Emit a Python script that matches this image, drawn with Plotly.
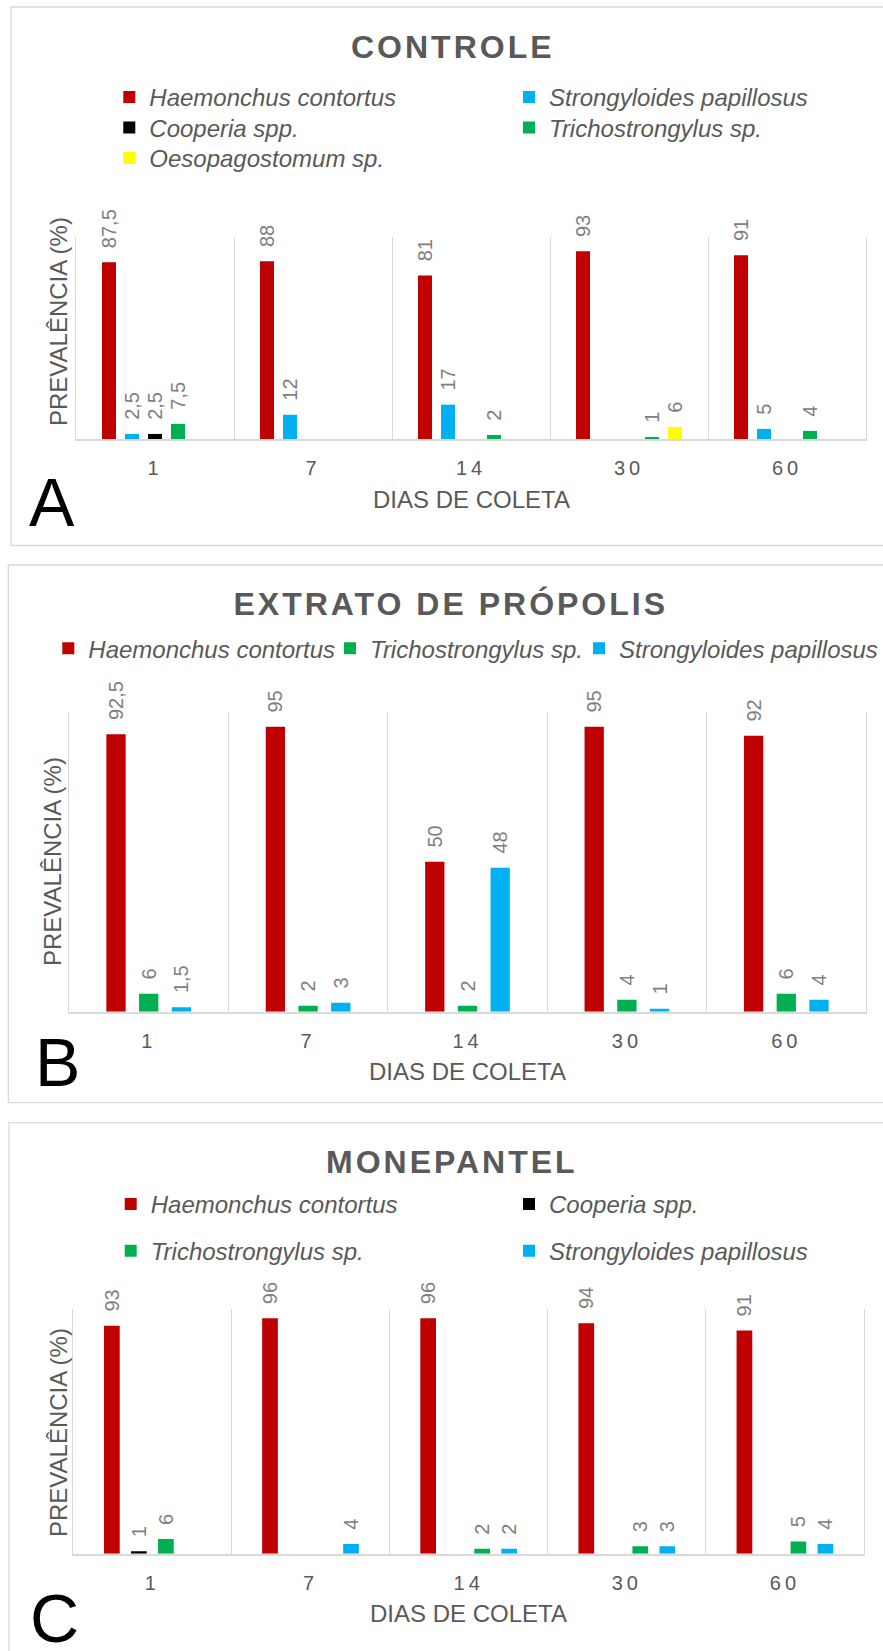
import plotly.graph_objects as go

# ---------------------------------------------------------------------------
# Data: prevalence (%) of each parasite per collection day, per treatment
# ---------------------------------------------------------------------------
DAYS = ["1", "7", "14", "30", "60"]

# A - CONTROLE
CTRL_HAEMONCHUS = [87.5, 88, 81, 93, 91]
CTRL_STRONGYLOIDES = [2.5, 12, 17, 0, 5]
CTRL_COOPERIA = [2.5, 0, 0, 0, 0]
CTRL_TRICHO = [7.5, 0, 2, 1, 4]
CTRL_OESO = [0, 0, 0, 6, 0]

# B - EXTRATO DE PRÓPOLIS
PROP_HAEMONCHUS = [92.5, 95, 50, 95, 92]
PROP_TRICHO = [6, 2, 2, 4, 6]
PROP_STRONGYLOIDES = [1.5, 3, 48, 1, 4]

# C - MONEPANTEL
MONE_HAEMONCHUS = [93, 96, 96, 94, 91]
MONE_COOPERIA = [1, 0, 0, 0, 0]
MONE_TRICHO = [6, 0, 2, 3, 5]
MONE_STRONGYLOIDES = [0, 4, 2, 3, 4]

PANEL_TITLES = ["CONTROLE", "EXTRATO DE PRÓPOLIS", "MONEPANTEL"]
PANEL_LETTERS = ["A", "B", "C"]
X_TITLE = "DIAS DE COLETA"
Y_TITLE = "PREVALÊNCIA (%)"

SPECIES = {
    "H": ("Haemonchus contortus", "#C00000"),
    "S": ("Strongyloides papillosus", "#00B0F0"),
    "C": ("Cooperia spp.", "#000000"),
    "T": ("Trichostrongylus sp.", "#00B050"),
    "O": ("Oesopagostomum sp.", "#FFFF00"),
}

# ---------------------------------------------------------------------------
# Layout helpers (page is 883 x 1651 px, margins 0 -> paper == page)
# ---------------------------------------------------------------------------
W, H = 883, 1651
FONT = "Liberation Sans, Arial, sans-serif"
DARK = "#595959"
LABEL_GRAY = "#808080"
LINE_GRAY = "#D9D9D9"


def fx(px):
    return px / W


def fy(py):
    return 1 - py / H


def fmt(v):
    if v == 0:
        return ""
    s = str(int(v)) if float(v).is_integer() else str(v).replace(".", ",")
    return "\u00a0\u00a0" + s


# plot-area boxes (left, right, top, bottom), bar slot / bar width in px,
# and where each legend entry's text starts (x, centre y); "R" = right-aligned
PANELS = [
    dict(series=[("H", CTRL_HAEMONCHUS), ("S", CTRL_STRONGYLOIDES), ("C", CTRL_COOPERIA),
                 ("T", CTRL_TRICHO), ("O", CTRL_OESO)],
         box=(76, 866, 237, 439), slot=23, bar=14,
         legend_at={"H": (149.3, 97), "S": (549, 97), "C": (149.3, 127.5),
                    "T": (549, 127.5), "O": (149.3, 158)}),
    dict(series=[("H", PROP_HAEMONCHUS), ("T", PROP_TRICHO), ("S", PROP_STRONGYLOIDES)],
         box=(69, 866, 711.7, 1011.7), slot=32.7, bar=19.3,
         legend_at={"H": (88.3, 648.3), "T": (370, 648.3), "S": ("R", 648.3)}),
    dict(series=[("H", MONE_HAEMONCHUS), ("C", MONE_COOPERIA), ("T", MONE_TRICHO),
                 ("S", MONE_STRONGYLOIDES)],
         box=(73.3, 864, 1308.5, 1553.7), slot=27, bar=15.7,
         legend_at={"H": (150.7, 1204), "C": (549, 1204), "T": (150.7, 1250.7),
                    "S": (549, 1250.7)}),
]

LEGEND_FONT = dict(family=FONT, size=24, color=DARK, style="italic")
TEXT_GAP = 40          # legend symbol column width in plotly
ITEM_CENTRE = 22.1     # distance from legend top to the entry's centre line

fig = go.Figure()
legend_count = 0
for p_i, panel in enumerate(PANELS):
    ax_sfx = "" if p_i == 0 else str(p_i + 1)
    x0, x1, y0, y1 = panel["box"]
    cat_px = (x1 - x0) / len(DAYS)
    n = len(panel["series"])
    w = panel["bar"] / cat_px

    for k, (key, vals) in enumerate(panel["series"]):
        name, color = SPECIES[key]
        legend_count += 1
        lid = "legend" if legend_count == 1 else f"legend{legend_count}"
        tx, cy = panel["legend_at"][key]
        spec = dict(yref="container", y=1 - (cy - ITEM_CENTRE) / H, yanchor="top",
                    xref="container", orientation="h", bgcolor="rgba(0,0,0,0)",
                    borderwidth=0, font=LEGEND_FONT)
        if tx == "R":
            spec.update(x=1, xanchor="right")
        else:
            spec.update(x=(tx - TEXT_GAP) / W, xanchor="left")
        fig.layout[lid] = spec

        centre = (k - (n - 1) / 2) * panel["slot"] / cat_px
        fig.add_trace(go.Bar(
            x=DAYS, y=vals, name=name,
            marker=dict(color=color, line=dict(width=0)),
            width=w, offset=centre - w / 2,
            text=[fmt(v) for v in vals], textposition="outside",
            textangle=-90, constraintext="none", cliponaxis=False,
            textfont=dict(family=FONT, size=20, color=LABEL_GRAY),
            xaxis="x" + ax_sfx, yaxis="y" + ax_sfx,
            legend=lid, hoverinfo="skip",
        ))

    fig.layout["xaxis" + ax_sfx] = dict(
        domain=[fx(x0), fx(x1)], anchor="y" + ax_sfx, type="category",
        range=[-0.5, len(DAYS) - 0.5], tickson="boundaries",
        showgrid=True, gridcolor=LINE_GRAY, gridwidth=1.3,
        showline=True, linecolor=LINE_GRAY, linewidth=2, ticks="",
        ticklabelstandoff=10,
        tickfont=dict(family=FONT, size=20, color=DARK), fixedrange=True,
    )
    fig.layout["yaxis" + ax_sfx] = dict(
        domain=[fy(y1), fy(y0)], anchor="x" + ax_sfx, range=[0, 100],
        showgrid=False, zeroline=False, showticklabels=False, ticks="",
        showline=True, mirror=True, linecolor=LINE_GRAY, linewidth=1.3,
        fixedrange=True,
    )

annotations = []
# panel titles (first three annotations; letter-spaced via CSS below)
for title, (tx, ty) in zip(PANEL_TITLES, [(453, 47), (451, 604), (451.5, 1162)]):
    annotations.append(dict(text=title, x=fx(tx), y=fy(ty), xref="paper", yref="paper",
                            xanchor="center", yanchor="middle", showarrow=False,
                            font=dict(family=FONT, size=32, color=DARK, weight="bold")))
# axis titles
for ytx, yty in zip([59, 52, 58], [322, 862, 1432]):
    annotations.append(dict(text=Y_TITLE, x=fx(ytx), y=fy(yty), xref="paper", yref="paper",
                            textangle=-90, xanchor="center", yanchor="middle", showarrow=False,
                            font=dict(family=FONT, size=24, color=DARK)))
for panel, xty in zip(PANELS, [500, 1071.7, 1613.3]):
    x0, x1, _, _ = panel["box"]
    annotations.append(dict(text=X_TITLE, x=fx((x0 + x1) / 2), y=fy(xty), xref="paper",
                            yref="paper", xanchor="center", yanchor="middle",
                            showarrow=False, font=dict(family=FONT, size=24, color=DARK)))
# panel letters
for letter, (lx, ly) in zip(PANEL_LETTERS, [(52, 502.5), (57, 1061.5), (54, 1618)]):
    annotations.append(dict(text=letter, x=fx(lx), y=fy(ly), xref="paper", yref="paper",
                            xanchor="center", yanchor="middle", showarrow=False,
                            font=dict(family=FONT, size=68, color="#000000")))

# panel frames (open on the right / bottom edge of the page)
shapes = []
for (bx, by0, by1) in [(11, 7, 545.5), (8.3, 565, 1102.7), (9, 1122.7, 1700)]:
    shapes.append(dict(type="rect", xref="paper", yref="paper",
                       x0=fx(bx), x1=fx(W + 40), y0=fy(by1), y1=fy(by0),
                       line=dict(color=LINE_GRAY, width=1.3), fillcolor="rgba(0,0,0,0)",
                       layer="below"))

fig.update_layout(
    width=W, height=H, margin=dict(l=0, r=0, t=0, b=0, autoexpand=False),
    paper_bgcolor="white", plot_bgcolor="white",
    barmode="group", showlegend=True,
    annotations=annotations, shapes=shapes,
    font=dict(family=FONT, color=DARK),
)

LETTER_SPACING_CSS = """
var st = document.createElement('style');
st.textContent = 'g.annotation[data-index="0"] text, g.annotation[data-index="1"] text, ' +
  'g.annotation[data-index="2"] text {letter-spacing: 3px;} ' +
  '.xtick text, .x2tick text, .x3tick text {letter-spacing: 4px;}';
document.head.appendChild(st);
"""

fig.write_html("out.html", post_script=LETTER_SPACING_CSS)
